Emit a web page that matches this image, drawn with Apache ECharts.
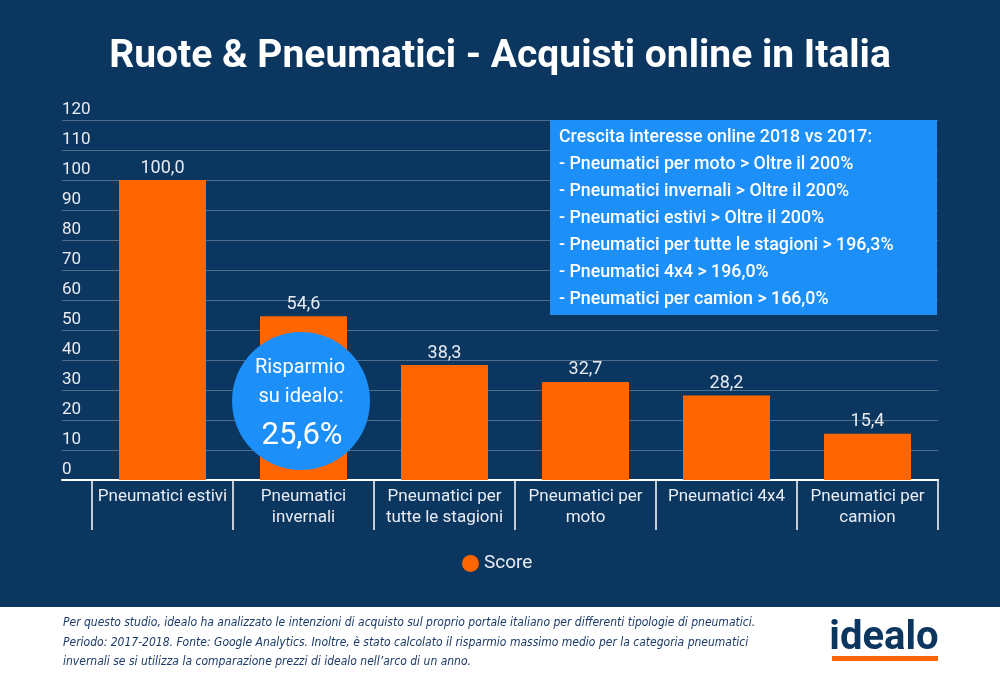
<!DOCTYPE html>
<html>
<head>
<meta charset="utf-8">
<script src="https://cdn.jsdelivr.net/npm/echarts@6/dist/echarts.min.js"></script>
<style>
html,body{margin:0;padding:0;background:#0b3660;}
#c{width:1000px;height:680px;}
</style>
</head>
<body>
<div id="c"></div>
<script>
var categories = ['Pneumatici estivi', 'Pneumatici\ninvernali', 'Pneumatici per\ntutte le stagioni', 'Pneumatici per\nmoto', 'Pneumatici 4x4', 'Pneumatici per\ncamion'];
var scoreValues = [100.0, 54.6, 38.3, 32.7, 28.2, 15.4];
var seriesName = 'Score';
var yTicks = [0, 10, 20, 30, 40, 50, 60, 70, 80, 90, 100, 110, 120];
var titleText = 'Ruote & Pneumatici - Acquisti online in Italia';
var boxLines = [
  'Crescita interesse online 2018 vs 2017:',
  '- Pneumatici per moto > Oltre il 200%',
  '- Pneumatici invernali > Oltre il 200%',
  '- Pneumatici estivi > Oltre il 200%',
  '- Pneumatici per tutte le stagioni > 196,3%',
  '- Pneumatici 4x4 > 196,0%',
  '- Pneumatici per camion > 166,0%'
];
var bubbleLines = ['Risparmio', 'su idealo:', '25,6%'];
var footerLines = [
  'Per questo studio, idealo ha analizzato le intenzioni di acquisto sul proprio portale italiano per differenti tipologie di pneumatici.',
  'Periodo: 2017-2018. Fonte: Google Analytics. Inoltre, è stato calcolato il risparmio massimo medio per la categoria pneumatici',
  'invernali se si utilizza la comparazione prezzi di idealo nell\u2019arco di un anno.'
];

var NAVY = '#0b3660';
var BLUE = '#1c8ff8';
var ORANGE = '#ff6600';
var FONT = 'Roboto, "Noto Sans", sans-serif';

var chart = echarts.init(document.getElementById('c'));

var graphics = [];
// info box
graphics.push({type:'rect', z:100, shape:{x:550, y:120, width:387, height:195}, style:{fill:BLUE}});
boxLines.forEach(function(t, i){
  graphics.push({type:'text', z:101, x:559, y:138 + i*26.9, style:{text:t, fill:'#ffffff', font:'500 17.8px ' + FONT, textVerticalAlign:'middle'}});
});
// bubble
graphics.push({type:'circle', z:100, shape:{cx:301, cy:401, r:69}, style:{fill:BLUE}});
graphics.push({type:'text', z:101, x:300, y:368, style:{text:bubbleLines[0], fill:'#ffffff', font:'20px ' + FONT, textAlign:'center', textVerticalAlign:'middle'}});
graphics.push({type:'text', z:101, x:301, y:397, style:{text:bubbleLines[1], fill:'#ffffff', font:'20px ' + FONT, textAlign:'center', textVerticalAlign:'middle'}});
graphics.push({type:'text', z:101, x:302, y:436, style:{text:bubbleLines[2], fill:'#ffffff', font:'31px ' + FONT, textAlign:'center', textVerticalAlign:'middle'}});
// footer
graphics.push({type:'rect', z:100, shape:{x:0, y:607, width:1000, height:73}, style:{fill:'#ffffff'}});
footerLines.forEach(function(t, i){
  graphics.push({type:'text', z:101, x:63, y:623 + i*19.5, style:{text:t, fill:'#1a3a68', font:'italic 12px "Liberation Sans Narrow", "DejaVu Sans Condensed", sans-serif', textVerticalAlign:'middle'}});
});
graphics.push({type:'text', z:101, x:884, y:639, style:{text:'idealo', fill:NAVY, font:'bold 40px ' + FONT, textAlign:'center', textVerticalAlign:'middle'}});
graphics.push({type:'rect', z:101, shape:{x:832, y:656, width:106, height:5}, style:{fill:ORANGE}});

var option = {
  backgroundColor: NAVY,
  textStyle: {fontFamily: FONT},
  title: {
    text: titleText, left: 'center', top: 33,
    textStyle: {color:'#ffffff', fontSize:39, fontWeight:'bold', fontFamily:FONT}
  },
  legend: {
    data: [seriesName], bottom: 102, left: 457, icon: 'circle', itemWidth: 17, itemHeight: 17, itemGap: 9,
    textStyle: {color:'#e8ecf2', fontSize:19, fontFamily:FONT}
  },
  grid: [
    {left:62, right:62, top:120, bottom:200},
    {left:92, right:62, top:120, bottom:200}
  ],
  xAxis: [
    {gridIndex:0, type:'value', min:0, max:1, axisLine:{show:true, onZero:false, lineStyle:{color:'#ffffff', width:2}}, axisTick:{show:false}, axisLabel:{show:false}, splitLine:{show:false}},
    {gridIndex:1, type:'category', data:categories, boundaryGap:true,
      axisLine:{show:true, lineStyle:{color:'#ffffff', width:2}},
      axisTick:{show:true, length:50, interval:0, lineStyle:{color:'#ffffff', width:1.5}},
      axisLabel:{interval:0, color:'#e8ecf2', fontSize:17, lineHeight:21, margin:6, fontFamily:FONT}
    }
  ],
  yAxis: [
    {gridIndex:0, type:'value', min:0, max:120, interval:10,
      axisLine:{show:false}, axisTick:{show:false},
      axisLabel:{inside:true, margin:0, color:'#e8ecf2', fontSize:17, verticalAlign:'bottom', padding:[0,0,2,0], fontFamily:FONT,
        formatter:function(v){ return yTicks.indexOf(v) >= 0 ? String(v) : ''; }},
      splitLine:{show:true, lineStyle:{color:'rgba(255,255,255,0.28)', width:1}}
    },
    {gridIndex:1, type:'value', min:0, max:120, interval:10, show:false, splitLine:{show:false}}
  ],
  series: [
    {
      name: seriesName, type:'bar', xAxisIndex:1, yAxisIndex:1, data: scoreValues, barWidth: 87,
      itemStyle:{color:ORANGE},
      label:{show:true, position:'top', distance:3, color:'#e8ecf2', fontSize:18, fontFamily:FONT,
        formatter:function(p){ return p.value.toFixed(1).replace('.', ','); }}
    }
  ],
  graphic: graphics
};
chart.setOption(option);
</script>
</body>
</html>
